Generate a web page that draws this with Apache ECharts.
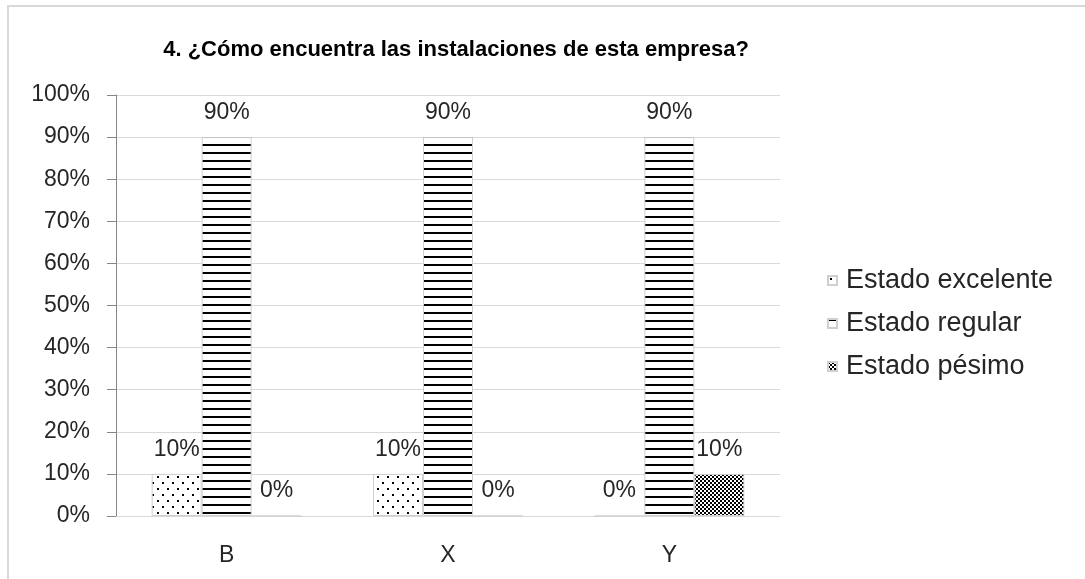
<!DOCTYPE html>
<html>
<head>
<meta charset="utf-8">
<script src="https://cdn.jsdelivr.net/npm/echarts@6/dist/echarts.min.js"></script>
<style>html,body{margin:0;padding:0;background:#fff;}#c{width:1085px;height:579px;}</style>
</head>
<body>
<div id="c"></div>
<script>
const titleText = '4. ¿Cómo encuentra las instalaciones de esta empresa?';
const categories = ['B', 'X', 'Y'];
const seriesNames = ['Estado excelente', 'Estado regular', 'Estado pésimo'];
const excelente = [10, 10, 0];
const regular = [90, 90, 90];
const pesimo = [0, 0, 10];
const yTicks = [0, 10, 20, 30, 40, 50, 60, 70, 80, 90, 100];

function makePattern(w, h, draw) {
  const cv = document.createElement('canvas');
  cv.width = w; cv.height = h;
  const ctx = cv.getContext('2d');
  ctx.fillStyle = '#ffffff';
  ctx.fillRect(0, 0, w, h);
  ctx.fillStyle = '#000000';
  draw(ctx);
  return { image: cv, repeat: 'repeat' };
}
const dotsPat = makePattern(10, 12, ctx => { ctx.fillRect(2, 2, 2, 2); ctx.fillRect(7, 8, 2, 2); });
const linesPat = makePattern(8, 8, ctx => { ctx.fillRect(0, 0, 8, 2); });
const checkPat = makePattern(4, 4, ctx => { ctx.fillRect(0, 0, 2, 2); ctx.fillRect(2, 2, 2, 2); });
const pats = [dotsPat, linesPat, checkPat];
const dataSets = [excelente, regular, pesimo];

const font = 'Liberation Sans';
const txt = '#262626';
const chart = echarts.init(document.getElementById('c'), null, { renderer: 'canvas' });
chart.setOption({
  animation: false,
  backgroundColor: '#ffffff',
  textStyle: { fontFamily: font },
  graphic: [{
    type: 'rect', shape: { x: 8, y: 6, width: 1100, height: 600 },
    style: { fill: 'none', stroke: '#d9d9d9', lineWidth: 2 }, silent: true
  }, {
    type: 'text', x: 456, y: 50, silent: true,
    style: { text: titleText, align: 'center', verticalAlign: 'middle',
      font: 'bold 22px "Liberation Sans"', fill: '#000' }
  }],
  legend: {
    orient: 'vertical', left: 822, top: 262, itemGap: 16,
    itemWidth: 9, itemHeight: 9, icon: 'rect',
    textStyle: { fontFamily: font, fontSize: 27, color: txt, padding: [0, 0, 0, 4] },
    data: seriesNames
  },
  grid: { left: 116, right: 305, top: 95, bottom: 63, containLabel: false },
  xAxis: {
    type: 'category', data: categories,
    axisLine: { lineStyle: { color: '#d9d9d9', width: 1 } },
    axisTick: { show: false },
    axisLabel: { fontFamily: font, fontSize: 23, color: txt, margin: 28 }
  },
  yAxis: {
    type: 'value', min: 0, max: 100, interval: 10,
    axisLine: { show: true, lineStyle: { color: '#868686' } },
    axisTick: { show: true, length: 9, lineStyle: { color: '#868686' } },
    splitLine: { lineStyle: { color: '#d9d9d9' } },
    axisLabel: { fontFamily: font, fontSize: 23, color: txt, margin: 26,
      formatter: v => yTicks.includes(v) ? v + '%' : '' }
  },
  series: seriesNames.map((n, i) => ({
    name: n, type: 'bar', data: dataSets[i],
    barWidth: 50, barGap: '0%',
    itemStyle: { color: pats[i], borderColor: '#d0d0d0', borderWidth: 1 },
    label: { show: true, position: 'top', distance: 13, formatter: '{c}%',
      fontFamily: font, fontSize: 23, color: txt }
  }))
});
</script>
</body>
</html>
